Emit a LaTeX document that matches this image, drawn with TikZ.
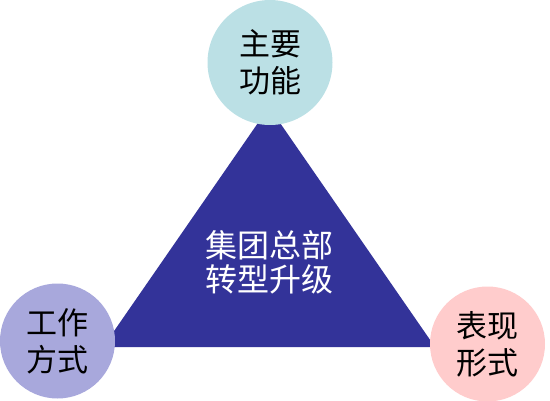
\documentclass[tikz,border=0pt]{standalone}
\usepackage{fontspec}
\newfontfamily\cjk{Noto Sans CJK SC}
\begin{document}
\begin{tikzpicture}[x=1pt,y=1pt,
  bubble/.style={circle,inner sep=0pt,align=center,font=\cjk\fontsize{31}{37}\selectfont,text=black},
  core/.style={fill=tri},
]
\definecolor{tri}{RGB}{51,51,153}
\definecolor{ctop}{RGB}{187,224,229}
\definecolor{cleft}{RGB}{168,168,220}
\definecolor{cright}{RGB}{255,204,204}
\useasboundingbox (0,0) rectangle (550,400);
\coordinate (apex) at (269,293);
\coordinate (bl) at (103,53);
\coordinate (br) at (435,53);
\fill[core] (apex) -- (bl) -- (br) -- cycle;
\node[align=center,text=white,font=\cjk\fontsize{32}{34}\selectfont] (center) at (269,138) {集团总部\\转型升级};
\node[bubble,fill=ctop,minimum size=125pt] (top) at (270,337.5) {主要\\功能};
\node[bubble,fill=cleft,minimum size=115pt] (left) at (57.5,59) {工作\\方式};
\node[bubble,fill=cright,minimum size=115pt] (right) at (487.5,56) {表现\\形式};
\end{tikzpicture}
\end{document}
